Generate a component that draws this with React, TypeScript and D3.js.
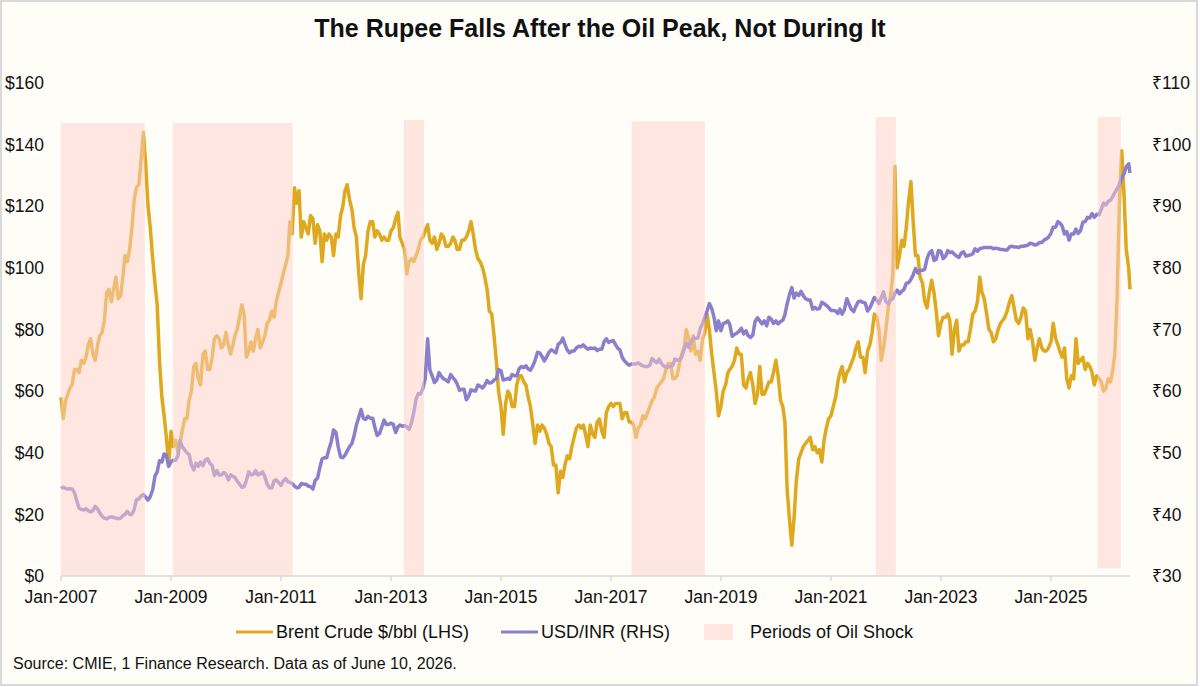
import { line, scaleLinear, scaleTime, timeFormat, timeParse } from "d3";

// Semi-monthly readings (1st and 16th of each month), one row per year from 2007.
const FIRST_YEAR = 2007;
const LAST_DATE = "2026-06-10";

const BRENT_ROWS: number[][] = [
  [58, 51, 57, 59, 61, 62, 67, 67, 66, 70, 69, 71, 75, 77, 72, 70, 75, 78, 79, 83, 92, 93, 89, 93],
  [97, 90, 91, 97, 104, 102, 106, 113, 122, 126, 127, 135, 144, 134, 120, 113, 103, 95, 88, 70, 58, 52, 45, 36],
  [47, 42, 44, 40, 43, 47, 51, 51, 57, 60, 68, 69, 64, 62, 72, 73, 67, 67, 71, 77, 78, 77, 74, 75],
  [79, 75, 72, 75, 78, 80, 84, 88, 85, 71, 73, 76, 73, 77, 80, 74, 76, 78, 82, 83, 86, 84, 89, 92],
  [95, 98, 101, 104, 115, 111, 126, 121, 125, 110, 115, 113, 111, 117, 116, 108, 114, 112, 102, 111, 109, 111, 110, 104],
  [111, 110, 117, 120, 125, 127, 122, 119, 113, 110, 98, 90, 101, 104, 112, 115, 115, 110, 112, 111, 109, 110, 109, 109],
  [112, 113, 116, 118, 110, 108, 106, 98, 102, 103, 102, 104, 106, 109, 110, 112, 114, 109, 108, 110, 106, 108, 111, 110],
  [107, 107, 108, 110, 109, 106, 106, 109, 109, 110, 112, 115, 111, 106, 103, 102, 100, 97, 93, 86, 85, 78, 70, 60],
  [55, 46, 56, 60, 59, 55, 55, 62, 65, 65, 63, 62, 58, 55, 49, 43, 49, 47, 49, 48, 46, 43, 42, 36],
  [36, 27, 34, 32, 36, 39, 38, 42, 45, 48, 49, 48, 49, 46, 42, 49, 46, 45, 50, 51, 47, 45, 53, 55],
  [56, 55, 56, 56, 56, 51, 53, 53, 50, 50, 49, 45, 48, 49, 52, 51, 53, 55, 57, 58, 61, 62, 63, 64],
  [67, 69, 69, 64, 64, 65, 69, 72, 74, 80, 77, 73, 78, 72, 73, 70, 77, 79, 85, 80, 72, 66, 60, 52],
  [55, 60, 62, 66, 67, 68, 70, 74, 72, 72, 62, 61, 64, 66, 62, 56, 59, 68, 59, 59, 61, 63, 63, 66],
  [70, 65, 57, 55, 50, 28, 18, 10, 19, 31, 38, 40, 42, 43, 44, 45, 41, 42, 40, 41, 37, 44, 48, 51],
  [52, 55, 58, 63, 66, 68, 63, 66, 67, 69, 71, 74, 76, 71, 71, 66, 73, 75, 79, 85, 84, 80, 70, 74],
  [80, 87, 91, 98, 133, 100, 104, 109, 107, 113, 122, 128, 115, 104, 104, 97, 95, 89, 87, 92, 96, 92, 86, 78],
  [82, 84, 84, 85, 83, 72, 80, 83, 73, 75, 75, 76, 76, 80, 85, 86, 89, 97, 92, 90, 85, 80, 79, 76],
  [77, 80, 82, 83, 84, 86, 89, 91, 87, 83, 82, 84, 87, 86, 77, 80, 76, 70, 74, 77, 74, 73, 73, 74],
  [76, 82, 77, 75, 73, 71, 74, 64, 61, 65, 64, 77, 69, 70, 71, 67, 69, 68, 66, 62, 65, 64, 63, 60],
  [61, 64, 63, 67, 72, 90, 122, 138, 124, 106, 100],
];
const BRENT_LAST = 93;

const INR_ROWS: number[][] = [
  [44.2, 44.4, 44.2, 44.1, 44.2, 44.1, 43.5, 42.2, 41.0, 40.8, 40.7, 40.9, 40.6, 40.4, 40.6, 41.3, 40.9, 40.2, 39.7, 39.4, 39.3, 39.5, 39.6, 39.5],
  [39.4, 39.3, 39.4, 39.8, 40.0, 40.5, 40.0, 40.0, 40.8, 42.4, 42.5, 43.0, 43.2, 42.8, 42.3, 42.9, 44.0, 46.2, 46.9, 48.7, 48.5, 49.8, 49.6, 47.8],
  [48.5, 48.8, 48.8, 49.5, 52.0, 51.0, 50.5, 50.0, 49.7, 48.0, 47.2, 48.3, 47.8, 48.5, 47.9, 48.8, 49.0, 48.3, 47.9, 46.3, 47.1, 46.4, 46.4, 46.8],
  [46.5, 45.6, 46.4, 46.2, 46.0, 45.4, 44.9, 44.4, 44.5, 45.5, 46.9, 46.4, 46.5, 47.1, 46.4, 46.6, 46.9, 46.1, 44.9, 44.3, 44.3, 45.4, 45.6, 45.2],
  [44.7, 45.4, 45.8, 45.3, 45.2, 45.0, 44.6, 44.3, 44.4, 45.0, 44.9, 44.9, 44.6, 44.5, 44.1, 45.5, 45.9, 47.6, 49.0, 49.2, 49.2, 50.6, 51.8, 53.7],
  [53.3, 51.0, 49.3, 49.2, 49.6, 50.3, 51.0, 51.5, 52.8, 54.5, 55.8, 57.0, 55.6, 55.4, 55.9, 55.6, 55.6, 54.1, 52.8, 53.1, 54.2, 55.3, 54.6, 54.6],
  [54.8, 54.6, 53.3, 54.2, 54.5, 54.3, 54.4, 54.2, 53.8, 54.8, 56.5, 58.7, 59.6, 59.5, 60.5, 62.0, 68.5, 63.4, 62.5, 61.4, 61.8, 63.0, 62.4, 62.0],
  [61.8, 61.5, 62.7, 62.2, 61.8, 61.2, 60.1, 60.3, 60.3, 58.6, 59.2, 60.2, 60.1, 60.0, 61.0, 60.8, 60.5, 61.0, 61.7, 61.3, 61.4, 61.8, 62.0, 63.5],
  [63.3, 61.8, 61.9, 62.1, 61.9, 62.7, 62.5, 62.5, 63.6, 64.0, 63.8, 64.1, 63.6, 63.4, 64.1, 65.0, 66.3, 66.2, 65.6, 64.9, 65.6, 66.3, 66.7, 66.5],
  [66.2, 67.6, 67.9, 68.6, 67.6, 66.7, 66.2, 66.5, 66.5, 67.0, 67.3, 67.2, 67.5, 67.1, 66.8, 67.0, 66.9, 67.0, 66.6, 66.8, 66.8, 68.0, 68.5, 67.9],
  [68.1, 68.2, 67.5, 66.9, 66.7, 65.5, 64.9, 64.5, 64.2, 64.4, 64.4, 64.4, 64.6, 64.3, 64.1, 64.0, 64.0, 64.2, 65.3, 64.9, 64.6, 65.2, 64.5, 64.1],
  [63.9, 63.9, 64.1, 64.2, 65.2, 65.0, 65.1, 65.6, 66.7, 67.8, 67.1, 68.0, 68.6, 68.6, 68.6, 70.1, 71.0, 72.0, 73.0, 74.2, 73.4, 72.0, 69.8, 71.4],
  [69.8, 71.0, 71.1, 71.4, 70.8, 68.9, 69.2, 69.4, 69.7, 70.2, 69.3, 69.8, 69.0, 68.7, 69.1, 71.3, 71.9, 71.4, 70.9, 71.4, 70.6, 72.0, 71.7, 71.0],
  [71.4, 70.9, 71.3, 71.5, 72.4, 74.2, 75.7, 76.8, 75.1, 75.9, 75.5, 76.2, 75.5, 75.0, 74.8, 74.8, 73.3, 73.6, 73.3, 73.4, 74.4, 74.2, 73.9, 73.6],
  [73.1, 73.1, 73.0, 72.6, 73.3, 72.5, 73.3, 75.0, 74.1, 73.3, 72.9, 73.8, 74.5, 74.6, 74.4, 74.3, 73.0, 73.5, 74.3, 75.2, 74.8, 74.2, 75.2, 76.1],
  [74.5, 74.2, 74.8, 75.0, 75.9, 76.4, 75.8, 76.2, 76.5, 77.5, 77.6, 78.1, 78.9, 79.9, 79.2, 79.6, 79.6, 79.8, 81.5, 82.4, 82.8, 81.2, 81.4, 82.8],
  [82.7, 81.5, 81.9, 82.8, 82.5, 82.6, 82.2, 81.9, 81.7, 82.4, 82.6, 81.9, 82.0, 82.1, 82.3, 83.1, 82.7, 83.1, 83.2, 83.3, 83.3, 83.3, 83.3, 83.1],
  [83.2, 83.1, 83.0, 83.0, 82.9, 82.9, 83.4, 83.5, 83.4, 83.4, 83.3, 83.5, 83.5, 83.6, 83.7, 84.0, 83.9, 83.7, 83.8, 84.1, 84.1, 84.5, 84.7, 85.0],
  [85.6, 86.6, 86.6, 87.5, 87.3, 86.8, 85.5, 85.9, 84.5, 85.5, 85.5, 86.3, 85.6, 86.0, 87.4, 87.5, 88.2, 88.1, 88.8, 88.2, 88.7, 88.6, 89.5, 90.5],
  [90.2, 90.8, 91.0, 91.6, 92.2, 92.8, 93.6, 94.6, 95.3, 96.4, 96.9],
];
const INR_LAST = 95.4;

// Oil shock windows, shaded over the lines
const SHOCK_START = ["2007-01-01", "2009-01-14", "2013-03-27", "2017-05-19", "2021-10-26", "2025-11-07"];
const SHOCK_END = ["2008-07-11", "2011-03-20", "2013-08-08", "2018-09-16", "2022-03-08", "2026-04-10"];
const SHOCK_TOP = [147, 147, 148, 147.5, 149, 149];
const SHOCK_BOTTOM = [0, 0, 0, 0, 0, 2.5];

const X_TICKS = ["2007-01-01", "2009-01-01", "2011-01-01", "2013-01-01", "2015-01-01", "2017-01-01", "2019-01-01", "2021-01-01", "2023-01-01", "2025-01-01"];
const BRENT_DOMAIN = [0, 160];
const INR_DOMAIN = [30, 110];

const TITLE = "The Rupee Falls After the Oil Peak, Not During It";
const SOURCE = "Source: CMIE, 1 Finance Research. Data as of June 10, 2026.";

const W = 1200;
const H = 687;
const margin = { top: 83, right: 70, bottom: 111, left: 61 };
const FONT = "'Liberation Sans', Arial, 'Noto Sans', 'DejaVu Sans', sans-serif";

const BG = "#FFFDF8";
const GOLD = "#DEA81F";
const PURPLE = "#8A7FCC";
const SHADE = "#FFD0CA";
const AXIS = "#D9D9D9";

type Point = { date: Date; value: number };

const parse = timeParse("%Y-%m-%d");

function toSeries(rows: number[][], last: number): Point[] {
  const pts: Point[] = [];
  rows.forEach((row, r) => {
    row.forEach((value, j) => {
      pts.push({ date: new Date(FIRST_YEAR + r, Math.floor(j / 2), j % 2 ? 16 : 1), value });
    });
  });
  pts.push({ date: parse(LAST_DATE) as Date, value: last });
  return pts;
}

export default function App() {
  const brent = toSeries(BRENT_ROWS, BRENT_LAST);
  const inr = toSeries(INR_ROWS, INR_LAST);

  const x = scaleTime()
    .domain([new Date(FIRST_YEAR, 0, 1), parse(LAST_DATE) as Date])
    .range([margin.left, W - margin.right]);
  const yL = scaleLinear().domain(BRENT_DOMAIN).range([H - margin.bottom, margin.top]);
  const yR = scaleLinear().domain(INR_DOMAIN).range([H - margin.bottom, margin.top]);

  const brentPath = line<Point>()
    .x((d) => x(d.date))
    .y((d) => yL(d.value))(brent);
  const inrPath = line<Point>()
    .x((d) => x(d.date))
    .y((d) => yR(d.value))(inr);

  const fmt = timeFormat("%b-%Y");
  const baseY = H - margin.bottom;

  const legendY = 632;

  return (
    <svg
      width={W}
      height={H}
      viewBox={`0 0 ${W} ${H}`}
      style={{ position: "absolute", left: 0, top: 0, display: "block" }}
      fontFamily={FONT}
    >
      <rect x={1} y={1} width={W - 4} height={H - 3} fill={BG} stroke={AXIS} strokeWidth={2} />

      <text x={W / 2} y={37} textAnchor="middle" fontSize={25} fontWeight="bold" fill="#111">
        {TITLE}
      </text>

      {/* lines */}
      <path d={brentPath ?? ""} fill="none" stroke={GOLD} strokeWidth={3.5} strokeLinejoin="round" />
      <path d={inrPath ?? ""} fill="none" stroke={PURPLE} strokeWidth={3.5} strokeLinejoin="round" />

      {/* shock periods drawn on top, translucent, so the lines fade inside them */}
      {SHOCK_START.map((s, i) => {
        const x0 = x(parse(s) as Date);
        const x1 = x(parse(SHOCK_END[i]) as Date);
        const y0 = yL(SHOCK_TOP[i]);
        const y1 = yL(SHOCK_BOTTOM[i]);
        return (
          <rect key={s} x={x0} y={y0} width={x1 - x0} height={y1 - y0} fill={SHADE} fillOpacity={0.5} />
        );
      })}

      {/* x axis */}
      <line x1={margin.left} x2={W - margin.right} y1={baseY} y2={baseY} stroke={AXIS} strokeWidth={1.5} />
      {X_TICKS.map((t) => {
        const d = parse(t) as Date;
        const px = x(d);
        return (
          <g key={t}>
            <line x1={px} x2={px} y1={baseY} y2={baseY + 5} stroke={AXIS} strokeWidth={1.5} />
            <text x={px} y={baseY + 27} textAnchor="middle" fontSize={17.5} fill="#111">
              {fmt(d)}
            </text>
          </g>
        );
      })}

      {/* left axis labels */}
      {yL.ticks(8).map((v) => (
        <text key={`l${v}`} x={44} y={yL(v)} dy="0.35em" textAnchor="end" fontSize={17.5} fill="#111">
          {`$${v}`}
        </text>
      ))}

      {/* right axis labels */}
      {yR.ticks(8).map((v) => (
        <text key={`r${v}`} x={1152} y={yR(v)} dy="0.35em" textAnchor="start" fontSize={17.5} fill="#111">
          {`₹${v}`}
        </text>
      ))}

      {/* legend */}
      <line x1={236} x2={273} y1={legendY} y2={legendY} stroke={GOLD} strokeWidth={3} />
      <text x={276} y={legendY} dy="0.35em" fontSize={18} fill="#111">
        Brent Crude $/bbl (LHS)
      </text>
      <line x1={501} x2={538} y1={legendY} y2={legendY} stroke={PURPLE} strokeWidth={3} />
      <text x={541} y={legendY} dy="0.35em" fontSize={18} fill="#111">
        USD/INR (RHS)
      </text>
      <rect x={704} y={legendY - 8} width={29} height={16} fill={SHADE} fillOpacity={0.5} />
      <text x={750} y={legendY} dy="0.35em" fontSize={18} fill="#111">
        Periods of Oil Shock
      </text>

      <text x={13} y={669} fontSize={16} fill="#111">
        {SOURCE}
      </text>
    </svg>
  );
}
